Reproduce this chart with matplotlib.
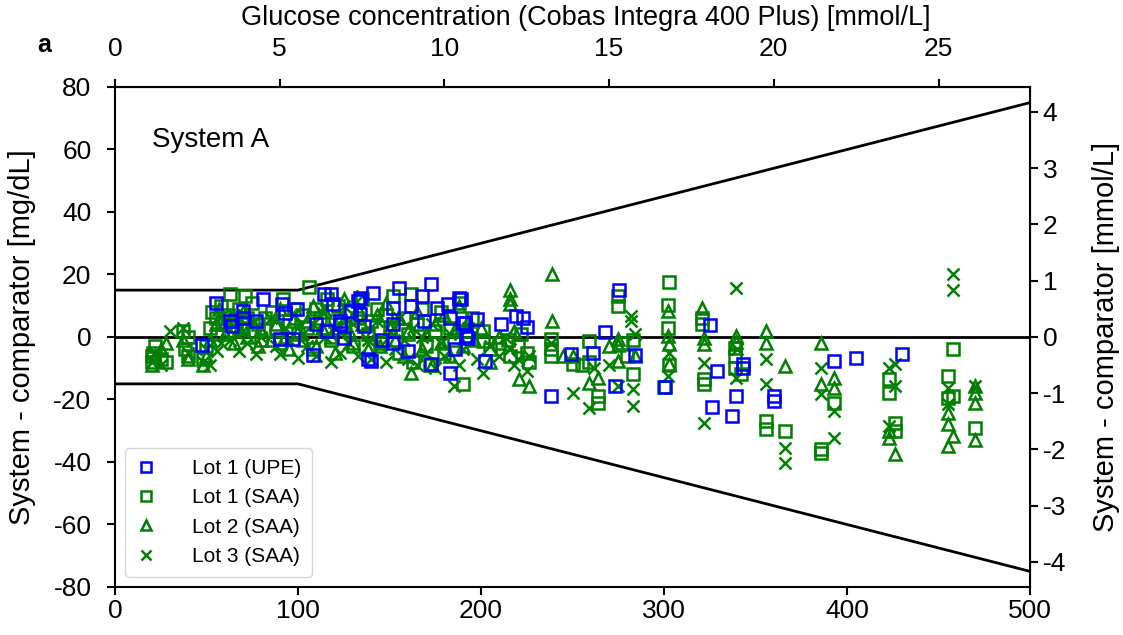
import numpy as np
import matplotlib
matplotlib.use("Agg")
import matplotlib.pyplot as plt

plt.rcParams['font.family'] = ['Liberation Sans', 'DejaVu Sans']
plt.rcParams['axes.unicode_minus'] = False

# ---- data (mg/dL) ----
# Lot 1 (UPE) - blue squares
upe_l1 = [(47.6, -2.6), (55, 11), (63, 5), (64, 3.5), (70, 8.3), (70, 6), (77, 5), (81, 12),
          (90, -0.6), (91, 10.5), (93, 7.7), (97.5, -0.6), (99.5, 9), (108, -5.8), (110, 4),
          (114, 13.7), (118, 13.7), (119, 10.5), (116, 2), (123, 4), (123, 5), (125, -0.3),
          (129, 8.3), (133, 11.5), (134, 12.5), (134, 7.4), (136, 3.5), (138, -7), (140, -7.7),
          (141, 14), (146, -1), (152, 4), (152, 9.3), (152, -1.9), (155, 15.7), (160, -4.5),
          (162, 10), (168, 13), (169, 5), (172.5, 17), (172.5, -8.6), (176, 9.3), (182, 10.5),
          (183, 6), (183, -11.5), (186, -3.8), (188, 12.5), (190, 4.5), (192, 0.3), (189, 12),
          (191, 4.6), (193, -0.3), (198, 5.8), (202, -7.7), (211, 4), (219, 6.7), (223, 6),
          (225, 3.2), (238, -19), (249, -5.4), (261, -5), (268, 1.6), (273, -15.7), (275.5, 15),
          (284, -5.8), (300.6, -16), (325, 3.8), (329, -10.9), (326, -22.4), (337, -25.3),
          (339.5, -19), (343, -8.6), (343, -10), (360, -19), (360, -20.5), (393, -7.7),
          (405, -6.7), (430, -5.4)]

# Lot 1 (SAA) - green squares
saa_l1 = [(20, -6), (20, -8), (21, -5), (22, -3), (25, -7), (28, -8), (37, 2), (38, -4), (40, 0),
          (40, -6), (48, -7), (50, -3), (52, 3), (53, 8), (55, 6), (56, 1), (58, 10), (60, 4),
          (62, 7), (63, 13.7), (65, 2), (66, 5), (68, 9), (70, 3), (71, 13), (72, 6), (75, 11),
          (76, 2), (78, 4), (80, -1), (82, 6), (86, 8), (88, 3), (90, -2), (92, 12), (95, 5),
          (98, 9), (100, 1), (102, 7), (105, 3), (106, 16), (108, -4), (110, 9), (112, 6),
          (115, 2), (116, 12), (118, -1), (120, 5), (122, 10), (125, 3), (128, 8), (130, -3),
          (132, 6), (135, 12), (138, 1), (140, 5), (143, 9), (145, -2), (148, 7), (150, 3),
          (152, 13), (155, -5), (158, 6), (160, 1), (162, 13.7), (163, -8), (165, 4), (168, 9),
          (170, -3), (172, -9), (175, 2), (178, 8), (180, -5), (183, 3), (185, -1), (188, 11),
          (190, -15), (192, 2), (195, 6), (201, 2), (201, -1.3), (205, -4), (210, -2), (215, -1),
          (216, -6), (220, -3), (222, 1), (225, -5), (226, -8), (238, -0.6), (238, -4), (238, -6),
          (250, -8.6), (255, -9), (259, -1.3), (259, -8), (264, -19), (264, -21), (275, 10),
          (275, 13), (277, -2), (280, -6), (283, -11.8), (283, -1), (300, -16), (302, 10.2),
          (302, 2.9), (303, 17.6), (303, -9), (321, 6), (321, 4), (322, -13.4), (322, -15),
          (339, -3.5), (339, -6.1), (339, -9.9), (342, -12), (356, -27), (356, -29.4), (366, -30),
          (386, -36), (386, -37), (393, -21), (423, -13.4), (423, -18), (426, -27.5), (426, -30),
          (455, -12.5), (455, -19.5), (458, -3.8), (458, -19), (470, -29)]

# Lot 2 (SAA) - green triangles
saa_l2 = [(20, -9), (22, -6), (25, -4), (28, -2), (37, -1), (40, -7), (48, -9), (50, -6), (52, -1),
          (55, 4), (57, 9), (60, 1), (63, 6), (65, -2), (68, 3), (70, 8), (72, 0), (75, 5), (78, -3),
          (80, 2), (85, -1), (88, 4), (90, 9), (93, 0), (95, -4), (98, 6), (100, 2), (103, -1),
          (105, 5), (108, 10), (110, -3), (113, 3), (115, 8), (118, 0), (120, -5), (123, 6),
          (125, 12), (128, 2), (130, -2), (133, 9), (135, 4), (138, -4), (140, 1), (143, 7),
          (145, -3), (148, 11), (150, 3), (153, -1), (155, 6), (158, -6), (160, 2), (162, -11.5),
          (165, 8), (168, -4), (170, 1), (173, -9), (175, 4), (178, -2), (180, 7), (183, -6),
          (185, 2), (188, 10), (190, -3), (193, 5), (196, -1), (200, 3), (205, -8), (210, 0),
          (216, 15), (216, 12), (216, 10.5), (218, 2), (221, -13.4), (226, -15.7), (239, 20),
          (239, 5), (245, -6), (250, -6), (259, -14.7), (264, -13), (270, -3), (275, -0.6),
          (275, -2.5), (275, -7.7), (284, -6), (302, 8.3), (302, 0.3), (303, -2.2), (303, -8.6),
          (321, 9.3), (322, -0.3), (322, -2.2), (339.5, 0.3), (339.5, -1.5), (356, 1.9),
          (356, -1.9), (366, -9.3), (386, -1.9), (386, -15), (393, -13), (393, -16.3),
          (423, -32.3), (426, -37.4), (423, -30), (455, -24.3), (455, -28), (458, -31.7),
          (455, -35), (470, -18), (470, -21), (470, -33), (470, -15.7)]

# Lot 3 (SAA) - green crosses
saa_l3 = [(20, -8), (22, -5), (25, -9), (30, 2), (37, 3), (40, -5), (48, -8), (50, -4), (52, -9),
          (56, -4.5), (58, -2), (60, 5), (63, -1), (65, 7), (68, -4.5), (70, 2), (72, -2), (75, 4),
          (77, -5.4), (80, 0), (85, 6), (88, -3), (90, -5.4), (93, 3), (95, -1), (98, 7),
          (100, -6.7), (103, 1), (105, -3), (108, 4), (110, -6), (113, 8), (115, 0), (118, -8),
          (120, 3), (123, -5), (125, 10), (128, -2), (130, 4), (133, -6), (135, 13), (138, -1),
          (140, -7), (143, 5), (145, -3), (148, -8), (150, 2), (153, -4), (155, 6), (158, -1),
          (160, -7), (163, 3), (165, -9), (168, 0), (170, -5), (173, 4), (175, -10), (178, -2),
          (180, -6), (183, 1), (185, -15.7), (188, -9), (190, -4), (193, 3), (198, -7),
          (201, -11.5), (205, -3), (210, -6), (213, 0), (216, -4), (218, -9), (220, -7),
          (225, -11), (226, -6), (238, -2), (250, -18), (259, -22.7), (262, -10), (270, -9),
          (275, -15.7), (282, 6.7), (282, 5), (283, -16.6), (283, -22), (284, 1), (302, -12.5),
          (303, -5), (322, -8.3), (322, -27.5), (339.5, 15.7), (339.5, -13), (340, -4), (356, -7),
          (356, -15), (366, -35.5), (366, -40.3), (386, -9.9), (386, -18.2), (393, -23.7),
          (393, -32.3), (423, -9.9), (426, -8.6), (426, -15.7), (423, -28.5), (455, -16.3),
          (455, -21.4), (458, 20), (458, 15), (470, -15.7)]

# acceptance limits: +-15 mg/dL below 100, +-15 % above
limit_x = [0, 100, 500]
limit_y = [15, 15, 75]

MGDL_PER_MMOL = 18.0

fig = plt.figure(figsize=(11.23, 6.35), dpi=100)
ax = fig.add_axes([0.1024, 0.0756, 0.8148, 0.7874])

ax.plot(limit_x, limit_y, color='black', lw=2, zorder=1)
ax.plot(limit_x, [-v for v in limit_y], color='black', lw=2, zorder=1)
ax.axhline(0, color='black', lw=2, zorder=1)

def draw(data, marker, color, label, z):
    d = np.array(data)
    ax.plot(d[:, 0], d[:, 1], ls='none', marker=marker, ms=9, mfc='none',
            mec=color, mew=1.8, label=label, zorder=z)

draw(saa_l1, 's', 'green', 'Lot 1 (SAA)', 2)
draw(saa_l2, '^', 'green', 'Lot 2 (SAA)', 2)
draw(saa_l3, 'x', 'green', 'Lot 3 (SAA)', 2)
draw(upe_l1, 's', 'blue', 'Lot 1 (UPE)', 3)

ax.set_xlim(0, 500)
ax.set_ylim(-80, 80)
ax.set_yticks(np.arange(-80, 81, 20))
ax.set_ylabel('System - comparator [mg/dL]', fontsize=21)
ax.yaxis.set_label_coords(-0.086, 0.5)
ax.tick_params(labelsize=19, direction='out', length=6, width=1.5)
ax.tick_params(axis='y', pad=11)
ax.tick_params(axis='x', pad=3)
for s in ax.spines.values():
    s.set_linewidth(1.5)

top = ax.secondary_xaxis('top', functions=(lambda v: v / MGDL_PER_MMOL, lambda v: v * MGDL_PER_MMOL))
top.set_xticks([0, 5, 10, 15, 20, 25])
top.set_xlabel('Glucose concentration (Cobas Integra 400 Plus) [mmol/L]', fontsize=19.5,
               labelpad=8)
top.xaxis.label.set_x(0.515)
top.tick_params(labelsize=19, direction='out', length=6, width=1.5, pad=13)

right = ax.secondary_yaxis('right', functions=(lambda v: v / MGDL_PER_MMOL, lambda v: v * MGDL_PER_MMOL))
right.set_yticks(np.arange(-4, 5, 1))
right.set_ylabel('System - comparator [mmol/L]', fontsize=21, labelpad=19)
right.tick_params(labelsize=19, direction='out', length=6, width=1.5, pad=3)

ax.text(20, 63, 'System A', fontsize=20, va='center', ha='left')
fig.text(0.033, 0.918, 'a', fontsize=18, fontweight='bold')

h, l = ax.get_legend_handles_labels()
order = [3, 0, 1, 2]
ax.legend([h[i] for i in order], [l[i] for i in order], loc='lower left', fontsize=15,
          markerscale=0.75, handlelength=1.0, handletextpad=1.7, borderpad=0.5,
          labelspacing=0.5, borderaxespad=0.5)

fig.savefig('out.png', dpi=100)
